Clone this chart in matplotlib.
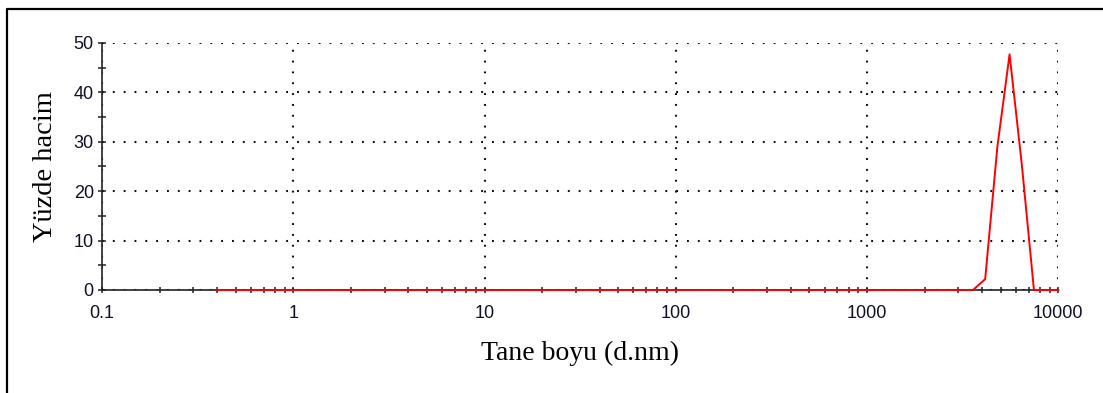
import numpy as np
import matplotlib
matplotlib.use('Agg')
import matplotlib.pyplot as plt
from matplotlib.lines import Line2D
from matplotlib.ticker import LogLocator, FixedLocator, NullFormatter

# Size classes (d.nm) and volume percentages of the distribution
boyut = [0.4, 3580, 4145, 4801, 5560, 6439, 7456, 10000]
hacim = [0.0, 0.0, 2.2, 29.0, 47.7, 25.5, 0.0, 0.0]

x_ticks = [0.1, 1, 10, 100, 1000, 10000]
x_labels = ['0.1', '1', '10', '100', '1000', '10000']
y_ticks = [0, 10, 20, 30, 40, 50]

fig = plt.figure(figsize=(11.03, 3.93), dpi=100)
ax = fig.add_axes([0.0925, 0.2621, 0.8670, 0.6285])

ax.plot(boyut, hacim, color='#ff0000', lw=1.4, zorder=5, clip_on=False)

ax.set_xscale('log')
ax.set_xlim(0.1, 10000)
ax.set_ylim(0, 50)
ax.set_xticks(x_ticks)
ax.set_xticklabels(x_labels)
ax.xaxis.set_minor_locator(LogLocator(base=10, subs=np.arange(2, 10)))
ax.xaxis.set_minor_formatter(NullFormatter())
ax.set_yticks(y_ticks)
ax.yaxis.set_minor_locator(FixedLocator([5, 15, 25, 35, 45]))

ax.grid(True, which='major', color='#111111', lw=1.5,
        linestyle=(0, (0.9, 4.3)))

for s in ['top', 'right']:
    ax.spines[s].set_visible(False)
for s in ['left', 'bottom']:
    ax.spines[s].set_linewidth(1.2)
    ax.spines[s].set_color('#222222')

ax.tick_params(axis='y', which='both', direction='inout', length=5.8,
               width=1.1, color='#222222', pad=3, labelsize=13,
               labelcolor='#10102a', labelfontfamily='Liberation Sans')
ax.tick_params(axis='x', which='major', direction='inout', length=5,
               width=1.1, color='#222222', pad=8, labelsize=13,
               labelcolor='#10102a', labelfontfamily='Liberation Sans')
ax.tick_params(axis='x', which='minor', direction='inout', length=4,
               width=1.1, color='#222222')

ax.set_xlabel('Tane boyu (d.nm)', family='Liberation Serif', fontsize=20,
              labelpad=14)
ax.set_ylabel('Yüzde hacim', family='Liberation Serif', fontsize=20.5,
              labelpad=11)

# frame lines along the left and top edges
fig.add_artist(Line2D([7 / 1103, 7 / 1103, 1.0], [0.0, 1 - 9 / 393, 1 - 9 / 393],
                      transform=fig.transFigure, color='black', lw=1.6))

fig.savefig('out.png', dpi=100)
